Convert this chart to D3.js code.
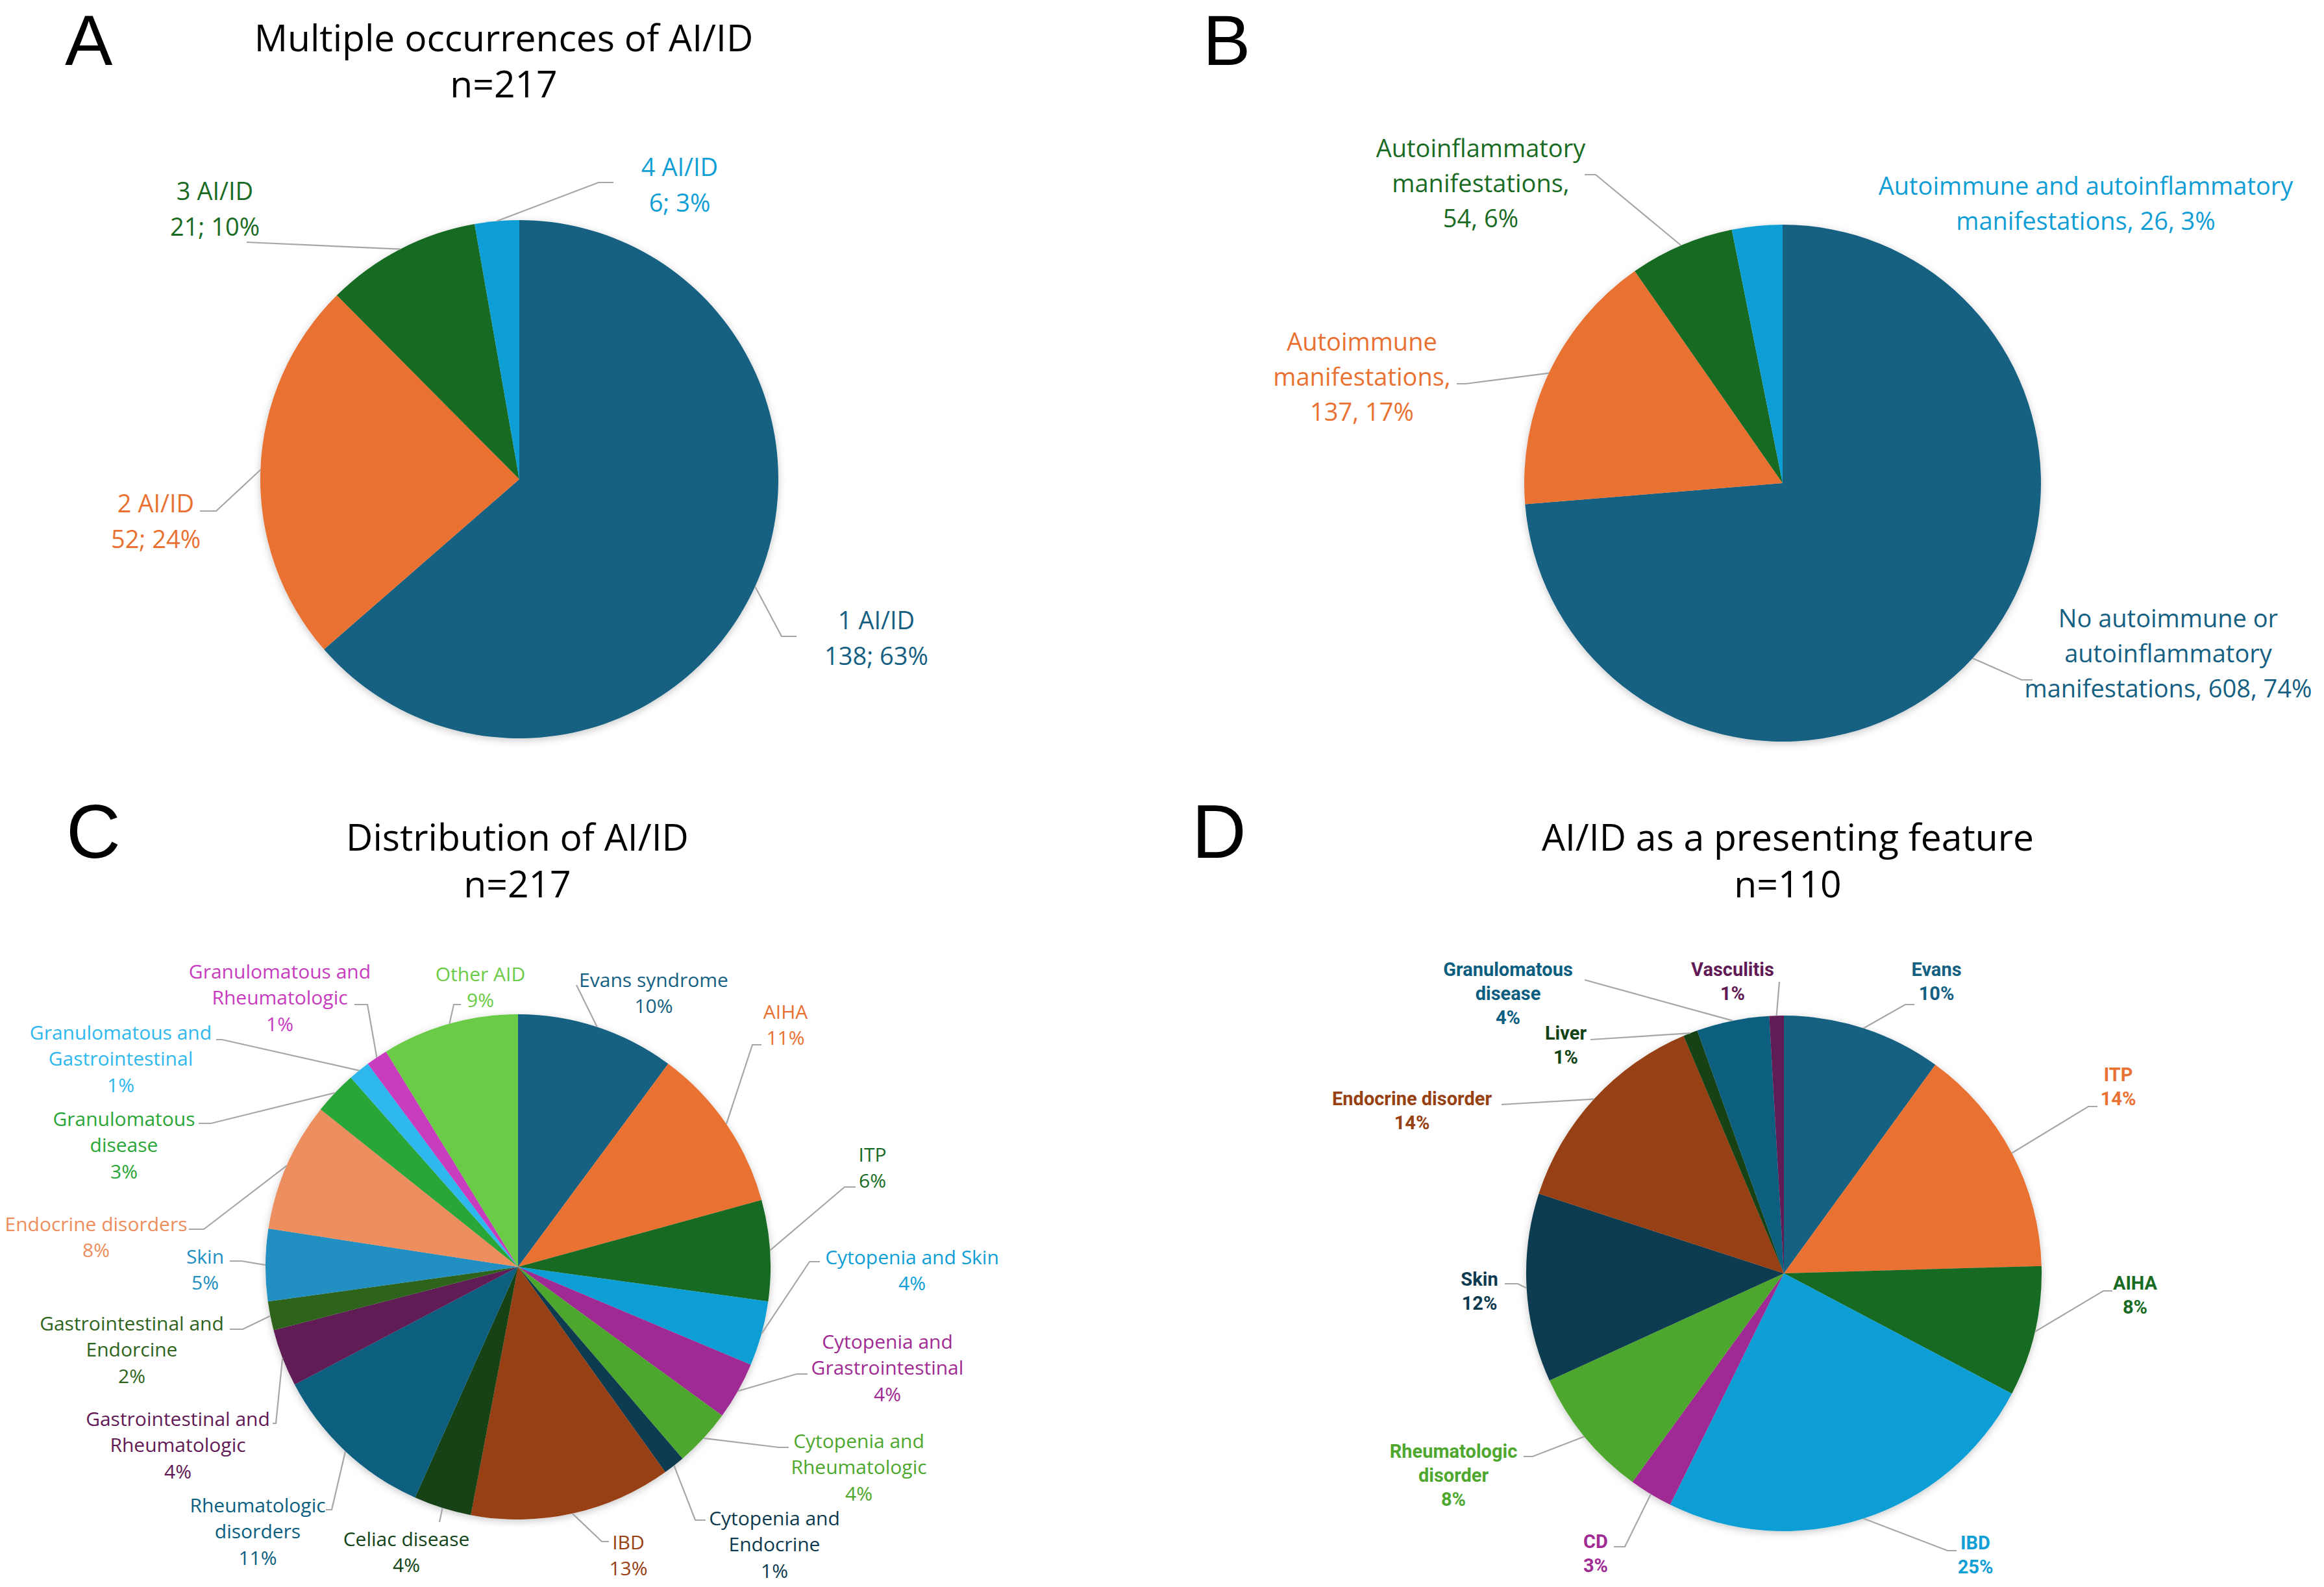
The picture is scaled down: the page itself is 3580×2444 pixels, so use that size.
<!DOCTYPE html>
<html><head><meta charset="utf-8">
<script src="https://cdn.jsdelivr.net/npm/d3@7"></script>
<style>html,body{margin:0;padding:0;background:#fff;} svg{display:block}</style>
</head><body>
<svg id="chart" width="3580" height="2444"></svg>
<script>
// ---------------- DATA ----------------
// Panel A: Multiple occurrences of AI/ID (n=217)
const aCategories = ["1 AI/ID", "2 AI/ID", "3 AI/ID", "4 AI/ID"];
const aValues = [138, 52, 21, 6];
const aLabels = [["1 AI/ID", "138; 63%"], ["2 AI/ID", "52; 24%"], ["3 AI/ID", "21; 10%"], ["4 AI/ID", "6; 3%"]];

// Panel B
const bCategories = ["No autoimmune or autoinflammatory manifestations", "Autoimmune manifestations",
  "Autoinflammatory manifestations", "Autoimmune and autoinflammatory manifestations"];
const bValues = [608, 137, 54, 26];
const bLabels = [["No autoimmune or", "autoinflammatory", "manifestations, 608, 74%"],
  ["Autoimmune", "manifestations,", "137, 17%"],
  ["Autoinflammatory", "manifestations,", "54, 6%"],
  ["Autoimmune and autoinflammatory", "manifestations, 26, 3%"]];

// Panel C: Distribution of AI/ID (n=217)
const cCategories = ["Evans syndrome", "AIHA", "ITP", "Cytopenia and Skin", "Cytopenia and Grastrointestinal",
  "Cytopenia and Rheumatologic", "Cytopenia and Endocrine", "IBD", "Celiac disease", "Rheumatologic disorders",
  "Gastrointestinal and Rheumatologic", "Gastrointestinal and Endorcine", "Skin", "Endocrine disorders",
  "Granulomatous disease", "Granulomatous and Gastrointestinal", "Granulomatous and Rheumatologic", "Other AID"];
const cValues = [22, 23, 14, 9, 8, 8, 3, 28, 8, 23, 8, 4, 10, 18, 6, 3, 3, 19];
const cLabels = [["Evans syndrome", "10%"], ["AIHA", "11%"], ["ITP", "6%"], ["Cytopenia and Skin", "4%"],
  ["Cytopenia and", "Grastrointestinal", "4%"], ["Cytopenia and", "Rheumatologic", "4%"],
  ["Cytopenia and", "Endocrine", "1%"], ["IBD", "13%"], ["Celiac disease", "4%"],
  ["Rheumatologic", "disorders", "11%"], ["Gastrointestinal and", "Rheumatologic", "4%"],
  ["Gastrointestinal and", "Endorcine", "2%"], ["Skin", "5%"], ["Endocrine disorders", "8%"],
  ["Granulomatous", "disease", "3%"], ["Granulomatous and", "Gastrointestinal", "1%"],
  ["Granulomatous and", "Rheumatologic", "1%"], ["Other AID", "9%"]];

// Panel D: AI/ID as a presenting feature (n=110)
const dCategories = ["Evans", "ITP", "AIHA", "IBD", "CD", "Rheumatologic disorder", "Skin",
  "Endocrine disorder", "Liver", "Granulomatous disease", "Vasculitis"];
const dValues = [11, 16, 9, 27, 3, 9, 13, 15, 1, 5, 1];
const dLabels = [["Evans", "10%"], ["ITP", "14%"], ["AIHA", "8%"], ["IBD", "25%"], ["CD", "3%"],
  ["Rheumatologic", "disorder", "8%"], ["Skin", "12%"], ["Endocrine disorder", "14%"], ["Liver", "1%"],
  ["Granulomatous", "disease", "4%"], ["Vasculitis", "1%"]];

const titles = {
  A: ["Multiple occurrences of AI/ID", "n=217"],
  C: ["Distribution of AI/ID", "n=217"],
  D: ["AI/ID as a presenting feature", "n=110"]
};

// ---------------- STYLES / LAYOUT ----------------
const aColors = ["#156082", "#E97132", "#196B24", "#0F9ED5"];
const bColors = ["#156082", "#E97132", "#196B24", "#0F9ED5"];
const cColors = ["#156082", "#E97132", "#196B24", "#0F9ED5", "#A02B93", "#4EA72E", "#0E3A4F", "#974012",
  "#124317", "#0B5E80", "#611A55", "#2E641D", "#218FC3", "#EC8E5D", "#2AA537", "#2EB8EE", "#C73CBE", "#6BCB46"];
const dColors = ["#156082", "#E97132", "#196B24", "#0F9ED5", "#A02B93", "#4EA72E", "#0E3A4F", "#974012",
  "#124317", "#0B5E80", "#611A55"];

// label layout: [centerX, firstLineCenterY, elbow, horizontalEnd]
const aLayout = [[1350, 954, [1204, 980], [1227, 980]], [240, 774, [333, 787], [308, 787]],
  [331, 293, [380, 373], null], [1047, 256, [922, 281], [945, 281]]];
const bLayout = [[3340, 951, [3114, 1047], [3131, 1047]], [2098, 525, [2258, 591], [2244, 591]],
  [2281, 227, [2458, 269], [2441, 269]], [3213, 285, null, null]];
const cLayout = [[1007, 1508, [888, 1517], null], [1210, 1557, [1159, 1609], [1173, 1609]],
  [1344, 1777, [1301, 1828], [1318, 1828]], [1405, 1935, [1247, 1943], [1263, 1943]],
  [1367, 2065, [1227, 2116], [1244, 2116]], [1323, 2218, [1200, 2229], [1215, 2229]],
  [1193, 2337, [1071, 2341], [1087, 2341]], [968, 2374, [927, 2374], [938, 2374]],
  [626, 2369, [677, 2344], null], [397, 2317, [511, 2325], [502, 2325]],
  [274, 2184, [425, 2192], [420, 2192]], [203, 2037, [374, 2047], [354, 2047]],
  [316, 1934, [372, 1942], [354, 1942]], [148, 1884, [314, 1893], [291, 1893]],
  [191, 1722, [325, 1730], [306, 1730]], [186, 1589, [342, 1601], [333, 1601]],
  [431, 1495, [566, 1547], [546, 1547]], [740, 1499, [699, 1547], [710, 1547]]];
const dLayout = [[2983, 1493, [2935, 1547], [2949, 1547]], [3263, 1655, [3217, 1704], [3231, 1704]],
  [3289, 1976, [3240, 1988], [3254, 1988]], [3043, 2376, [3000, 2388], [3014, 2388]],
  [2458, 2374, [2503, 2382], [2486, 2382]], [2239, 2235, [2361, 2243], [2347, 2243]],
  [2279, 1970, [2338, 1977], [2318, 1977]], [2175, 1692, [2313, 1701], null],
  [2412, 1591, [2450, 1601], null], [2323, 1493, [2441, 1509], null], [2669, 1493, [2741, 1512], null]];

const svg = d3.select("#chart");
const defs = svg.append("defs");
const f = defs.append("filter").attr("id", "shadow").attr("x", "-10%").attr("y", "-10%")
  .attr("width", "120%").attr("height", "120%");
f.append("feDropShadow").attr("dx", 0).attr("dy", 3).attr("stdDeviation", 6)
  .attr("flood-color", "#000").attr("flood-opacity", 0.22);

const SEGOE = "'Open Sans', 'Noto Sans', sans-serif";

function drawPie(o) {
  const pie = d3.pie().sort(null).value(d => d);
  const arcs = pie(o.values);
  const arc = d3.arc().innerRadius(0).outerRadius(o.r);
  const g = svg.append("g");
  g.append("g").attr("transform", `translate(${o.cx},${o.cy})`).attr("filter", "url(#shadow)")
    .selectAll("path").data(arcs).join("path")
    .attr("d", arc).attr("fill", (d, i) => o.colors[i]);
  const lg = g.append("g");
  arcs.forEach((a, i) => {
    const lay = o.layout[i];
    const mid = (a.startAngle + a.endAngle) / 2;
    const p0 = [o.cx + o.r * Math.sin(mid), o.cy - o.r * Math.cos(mid)];
    if (lay[2]) {
      const pts = [p0, lay[2]];
      if (lay[3]) pts.push(lay[3]);
      lg.append("path").attr("d", d3.line()(pts)).attr("fill", "none")
        .attr("stroke", "#A6A6A6").attr("stroke-width", 2.2);
    }
    const t = lg.append("text").attr("text-anchor", "middle")
      .attr("font-family", o.font).attr("font-size", o.fontSize).attr("font-weight", o.weight)
      .attr("fill", o.colors[i]);
    o.labels[i].forEach((line, k) => {
      t.append("tspan").attr("x", lay[0]).attr("y", lay[1] + k * o.gap)
        .attr("dominant-baseline", "central").text(line);
    });
  });
}

function title(lines, x, y1, y2) {
  const t = svg.append("text").attr("text-anchor", "middle").attr("font-family", SEGOE)
    .attr("font-size", 57).attr("fill", "#000");
  t.append("tspan").attr("x", x).attr("y", y1).text(lines[0]);
  t.append("tspan").attr("x", x).attr("y", y2).text(lines[1]);
}

function letter(s, x, y, size) {
  svg.append("text").attr("x", x).attr("y", y).attr("font-family", "'Liberation Sans', Arial, sans-serif")
    .attr("font-size", size).attr("fill", "#000").text(s);
}

letter("A", 100, 100, 110); letter("B", 1853, 100, 110);
letter("C", 102, 1321, 116); letter("D", 1836, 1321, 116);
title(titles.A, 776, 79, 150);
title(titles.C, 797, 1310, 1382);
title(titles.D, 2754, 1310, 1382);

drawPie({cx: 800, cy: 738, r: 399, values: aValues, colors: aColors, labels: aLabels, layout: aLayout,
  font: SEGOE, fontSize: 38, weight: 400, gap: 55});
drawPie({cx: 2746, cy: 744, r: 398, values: bValues, colors: bColors, labels: bLabels, layout: bLayout,
  font: SEGOE, fontSize: 38, weight: 400, gap: 54});
drawPie({cx: 798, cy: 1951, r: 389, values: cValues, colors: cColors, labels: cLabels, layout: cLayout,
  font: SEGOE, fontSize: 30, weight: 400, gap: 40.5});
drawPie({cx: 2748, cy: 1961, r: 397, values: dValues, colors: dColors, labels: dLabels, layout: dLayout,
  font: "Roboto, 'Noto Sans', sans-serif", fontSize: 29, weight: 700, gap: 37});
</script>
</body></html>
